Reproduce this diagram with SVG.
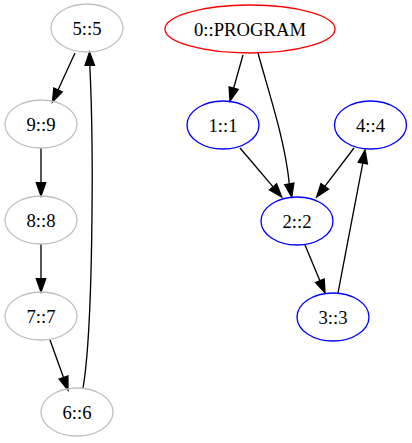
<svg xmlns="http://www.w3.org/2000/svg" width="412" height="443" viewBox="0 0 412 443">
<style>
.n ellipse{fill:none;stroke-width:1.33}
.g ellipse{stroke:#c0c0c0}
.r ellipse{stroke:#ff0000}
.b ellipse{stroke:#0000ff}
text{font-family:"Liberation Serif","Times New Roman",serif;font-size:18.67px;text-anchor:middle;fill:#000}
#edges path{fill:none;stroke:#000;stroke-width:1.33}
#edges polygon{fill:#000;stroke:#000;stroke-width:1.33}
</style>
<rect width="412" height="443" fill="#fff"/>
<g id="edges">
<path d="M75,53 L58,90"/><polygon points="62.3,91.9 52.5,102 53.8,88"/>
<path d="M41,148 L41,182.7"/><polygon points="45.7,182.7 41,196 36.3,182.7"/>
<path d="M41,244 L41,278.7"/><polygon points="45.7,278.7 41,292 36.3,278.7"/>
<path d="M50,340 L63.5,377.5"/><polygon points="67.9,375.9 68,390 59.1,379.1"/>
<path d="M83,388 C93,330 94,150 89.8,65.3"/><polygon points="94.5,65.3 89.5,52 85.1,65.3"/>
<path d="M243,55 L233.6,88.2"/><polygon points="238.1,89.5 230,101 229.1,86.9"/>
<path d="M258,53 C268,90 285,140 289.3,183.9"/><polygon points="293.9,183.1 291.7,197 284.7,184.8"/>
<path d="M240,148 L273.1,186.9"/><polygon points="276.6,183.8 281.7,197 269.5,189.9"/>
<path d="M354,148 L324.8,186.4"/><polygon points="328.5,189.2 316.7,197 321,183.6"/>
<path d="M305,245 L319.9,280.7"/><polygon points="324.2,278.9 325,293 315.6,282.5"/>
<path d="M338,293 C346,250 355,205 362.8,163.1"/><polygon points="367.4,163.9 365,150 358.2,162.3"/>
</g>
<g id="n5" class="n g"><ellipse cx="87" cy="28" rx="36" ry="24"/><text x="87" y="34.5">5::5</text></g>
<g id="n9" class="n g"><ellipse cx="41" cy="124" rx="36" ry="24"/><text x="41" y="130.5">9::9</text></g>
<g id="n8" class="n g"><ellipse cx="41" cy="220" rx="36" ry="24"/><text x="41" y="226.5">8::8</text></g>
<g id="n7" class="n g"><ellipse cx="41" cy="316" rx="36" ry="24"/><text x="41" y="322.5">7::7</text></g>
<g id="n6" class="n g"><ellipse cx="77" cy="412" rx="36" ry="24"/><text x="77" y="418.5">6::6</text></g>
<g id="n0" class="n r"><ellipse cx="250" cy="29" rx="85" ry="24"/><text x="250" y="35.5">0::PROGRAM</text></g>
<g id="n1" class="n b"><ellipse cx="223" cy="125" rx="36" ry="24"/><text x="223" y="131.5">1::1</text></g>
<g id="n4" class="n b"><ellipse cx="370.5" cy="125" rx="36" ry="24"/><text x="370.5" y="131.5">4::4</text></g>
<g id="n2" class="n b"><ellipse cx="297" cy="221" rx="36" ry="24"/><text x="297" y="227.5">2::2</text></g>
<g id="n3" class="n b"><ellipse cx="333" cy="317" rx="36" ry="24"/><text x="333" y="323.5">3::3</text></g>
</svg>
